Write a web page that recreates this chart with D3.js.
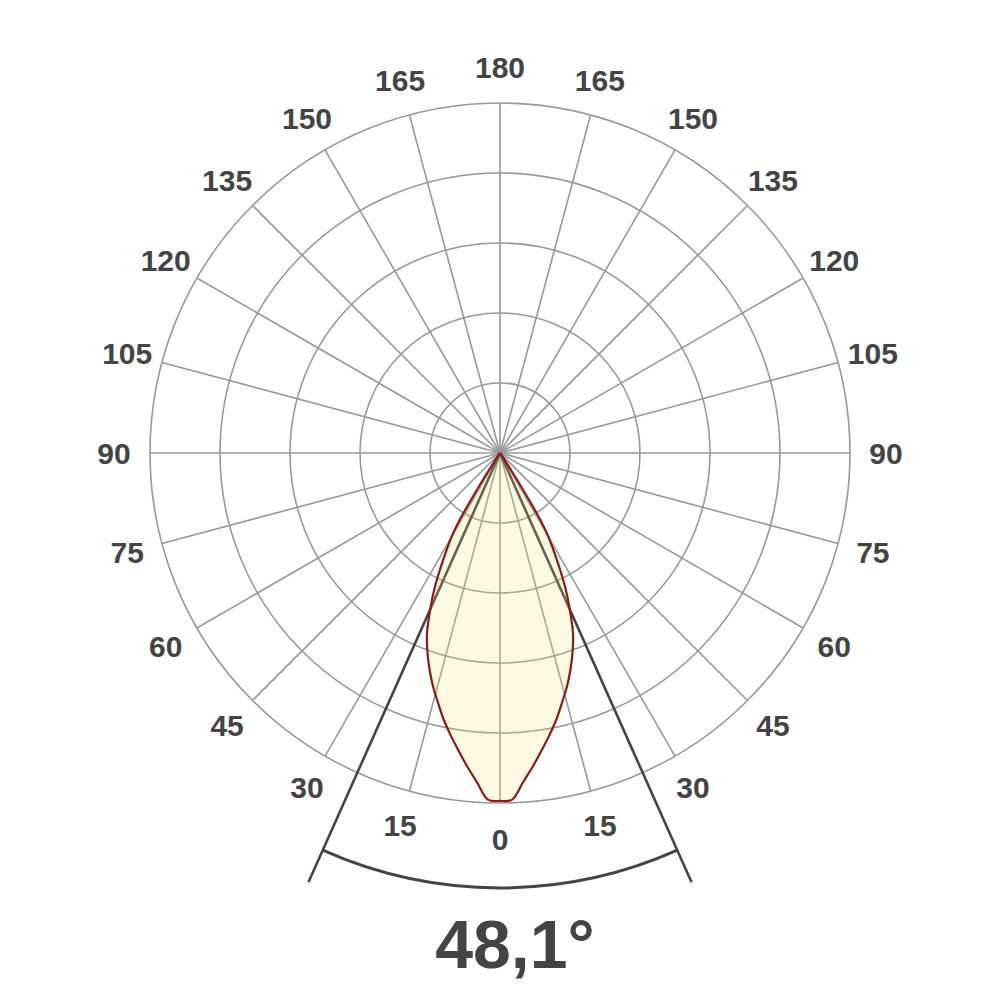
<!DOCTYPE html>
<html>
<head>
<meta charset="utf-8">
<script src="https://cdn.jsdelivr.net/npm/d3@7"></script>
<style>
  html, body { margin: 0; padding: 0; background: #ffffff; }
  svg { display: block; }
  text { font-family: "Liberation Sans", Arial, Helvetica, sans-serif; font-weight: bold; fill: #444444; }
</style>
</head>
<body>
<svg id="chart" width="1000" height="1000"></svg>
<script>
// ---- data ----
// gamma angles (deg, from nadir) and relative intensity (% of outer ring)
const gammaAngles = [0, 2, 4, 6, 8, 10, 12, 14, 16, 18, 20, 22, 24, 26, 28, 30, 31, 32, 33, 34, 36, 40, 45, 90];
const intensity   = [99.4, 99.1, 94.3, 90.0, 85.7, 81.7, 77.7, 73.4, 69.4, 65.1, 60.6, 55.7, 49.1, 42.3, 34.6, 27.7, 22.9, 12.9, 5.7, 2.3, 0.9, 0.3, 0, 0];
const ringValues  = [20, 40, 60, 80, 100];
const spokeAngles = d3.range(0, 360, 15);
const tickLabelsRight = [0, 15, 30, 45, 60, 75, 90, 105, 120, 135, 150, 165, 180];
const tickLabelsLeft  = [15, 30, 45, 60, 75, 90, 105, 120, 135, 150, 165];
const beamAngle = 48.1;
const beamLabel = "48,1°";

// ---- layout ----
const cx = 500, cy = 453, R = 350;
const svg = d3.select("#chart");
const g = svg.append("g").attr("transform", `translate(${cx},${cy})`);
const r = d3.scaleLinear().domain([0, 100]).range([0, R]);
const rad = d => d * Math.PI / 180;
// angle from nadir (deg, positive = right) -> d3 radial angle
const toA = d => Math.PI - rad(d);
const px = (deg, rr) => rr * Math.sin(toA(deg));
const py = (deg, rr) => -rr * Math.cos(toA(deg));

// grid rings
g.selectAll("circle.ring").data(ringValues).join("circle")
  .attr("class", "ring").attr("r", d => r(d))
  .attr("fill", "none").attr("stroke", "#999999").attr("stroke-width", 1.6);

// spokes
g.selectAll("line.spoke").data(spokeAngles).join("line")
  .attr("x1", 0).attr("y1", 0)
  .attr("x2", d => px(d, R)).attr("y2", d => py(d, R))
  .attr("stroke", "#999999").attr("stroke-width", 1.6);

// angle labels
const labelR = 386;
const labels = tickLabelsRight.map(v => ({v, a: v})).concat(tickLabelsLeft.map(v => ({v, a: -v})));
g.selectAll("text.tick").data(labels).join("text")
  .attr("class", "tick")
  .attr("x", d => px(d.a, labelR))
  .attr("y", d => py(d.a, labelR))
  .attr("text-anchor", "middle")
  .attr("dominant-baseline", "central")
  .attr("font-size", 30)
  .text(d => d.v);

// beam angle lines
const half = beamAngle / 2;
const beamLen = 470;
g.selectAll("line.beam").data([-half, half]).join("line")
  .attr("x1", 0).attr("y1", 0)
  .attr("x2", d => px(d, beamLen)).attr("y2", d => py(d, beamLen))
  .attr("stroke", "#444444").attr("stroke-width", 2.6);

// beam arc
const arc = d3.arc().innerRadius(435).outerRadius(435)
  .startAngle(toA(half)).endAngle(toA(-half));
g.append("path").attr("d", arc()).attr("fill", "none")
  .attr("stroke", "#444444").attr("stroke-width", 3);

// intensity curve (symmetric)
const pts = [];
for (let i = gammaAngles.length - 1; i >= 0; i--) pts.push({a: -gammaAngles[i], v: intensity[i]});
for (let i = 1; i < gammaAngles.length; i++) pts.push({a: gammaAngles[i], v: intensity[i]});
const line = d3.lineRadial()
  .angle(d => toA(d.a)).radius(d => r(d.v))
  .curve(d3.curveCatmullRomClosed.alpha(0.5));
g.append("path").attr("d", line(pts))
  .attr("fill", "rgb(245,225,115)").attr("fill-opacity", 0.2).attr("stroke", "none");
g.append("path").attr("d", line(pts))
  .attr("fill", "none").attr("stroke", "#8b1a1a").attr("stroke-width", 2.2)
  .attr("stroke-linejoin", "round");

// beam angle text
svg.append("text").attr("x", 515).attr("y", 968)
  .attr("text-anchor", "middle").attr("font-size", 68)
  .text(beamLabel);
</script>
</body>
</html>
